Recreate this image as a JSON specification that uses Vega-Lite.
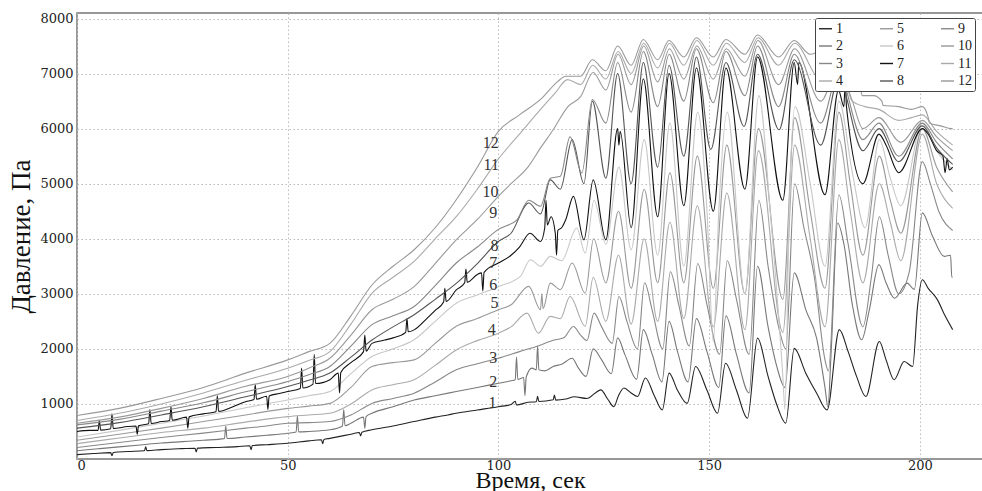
{
"$schema":"https://vega.github.io/schema/vega-lite/v6.json",
"width":906,"height":446,
"autosize":{"type":"none"},
"padding":{"left":77,"top":13,"right":0,"bottom":32},
"background":"white",
"datasets":{
"pressure":[
{"s":1,"t":0,"v":80},{"s":1,"t":4,"v":100},{"s":1,"t":8,"v":115},{"s":1,"t":8.3,"v":60},{"s":1,"t":8.6,"v":118},{"s":1,"t":12,"v":135},{"s":1,"t":16,"v":150},{"s":1,"t":16.3,"v":220},{"s":1,"t":16.6,"v":152},{"s":1,"t":20,"v":170},{"s":1,"t":24,"v":185},{"s":1,"t":28,"v":195},{"s":1,"t":28.3,"v":130},{"s":1,"t":28.6,"v":197},{"s":1,"t":33,"v":210},{"s":1,"t":38,"v":225},{"s":1,"t":41,"v":240},{"s":1,"t":41.3,"v":170},{"s":1,"t":41.6,"v":245},{"s":1,"t":45,"v":260},{"s":1,"t":50,"v":285},{"s":1,"t":55,"v":330},{"s":1,"t":58,"v":350},{"s":1,"t":58.3,"v":280},{"s":1,"t":58.6,"v":355},{"s":1,"t":60,"v":375},{"s":1,"t":65,"v":450},{"s":1,"t":67,"v":480},{"s":1,"t":67.3,"v":420},{"s":1,"t":67.6,"v":485},{"s":1,"t":70,"v":530},{"s":1,"t":75,"v":600},{"s":1,"t":80,"v":680},{"s":1,"t":85,"v":760},{"s":1,"t":88,"v":800},{"s":1,"t":90,"v":830},{"s":1,"t":95,"v":890},{"s":1,"t":100,"v":950},{"s":1,"t":103,"v":990},{"s":1,"t":104,"v":1050},{"s":1,"t":104.3,"v":980},{"s":1,"t":107,"v":1030},{"s":1,"t":109,"v":1040},{"s":1,"t":109.3,"v":1140},{"s":1,"t":109.6,"v":1045},{"s":1,"t":113,"v":1075},{"s":1,"t":113.3,"v":1160},{"s":1,"t":113.6,"v":1070},{"s":1,"t":116,"v":1090},{"s":1,"t":118,"v":1130},{"s":1,"t":121,"v":1100},{"s":1,"t":123,"v":1200},{"s":1,"t":124.3,"v":1255},{"s":1,"t":126,"v":1080},{"s":1,"t":127.4,"v":950},{"s":1,"t":128.5,"v":1150},{"s":1,"t":129.8,"v":1290},{"s":1,"t":131.5,"v":1200},{"s":1,"t":133,"v":1135},{"s":1,"t":134.9,"v":1470},{"s":1,"t":137,"v":1150},{"s":1,"t":138.9,"v":890},{"s":1,"t":140.5,"v":1560},{"s":1,"t":142.5,"v":1250},{"s":1,"t":144.8,"v":1010},{"s":1,"t":146.8,"v":1680},{"s":1,"t":149.5,"v":1250},{"s":1,"t":152,"v":830},{"s":1,"t":153.9,"v":1740},{"s":1,"t":156.5,"v":1250},{"s":1,"t":159.1,"v":740},{"s":1,"t":161.5,"v":2195},{"s":1,"t":164,"v":1500},{"s":1,"t":166,"v":1000},{"s":1,"t":168.2,"v":650},{"s":1,"t":170.2,"v":2010},{"s":1,"t":173,"v":1550},{"s":1,"t":175.5,"v":1200},{"s":1,"t":178,"v":890},{"s":1,"t":180.9,"v":2350},{"s":1,"t":183,"v":1950},{"s":1,"t":185,"v":1500},{"s":1,"t":187.2,"v":1135},{"s":1,"t":190.4,"v":2135},{"s":1,"t":192,"v":1800},{"s":1,"t":193.9,"v":1440},{"s":1,"t":196.3,"v":1770},{"s":1,"t":198.3,"v":1680},{"s":1,"t":199.5,"v":2800},{"s":1,"t":200.6,"v":3255},{"s":1,"t":202,"v":3100},{"s":1,"t":204.2,"v":2890},{"s":1,"t":206,"v":2600},{"s":1,"t":207.8,"v":2350},
{"s":2,"t":0,"v":150},{"s":2,"t":5,"v":185},{"s":2,"t":10,"v":220},{"s":2,"t":15,"v":255},{"s":2,"t":20,"v":290},{"s":2,"t":25,"v":315},{"s":2,"t":30,"v":340},{"s":2,"t":35,"v":370},{"s":2,"t":35.3,"v":600},{"s":2,"t":35.6,"v":372},{"s":2,"t":40,"v":400},{"s":2,"t":45,"v":430},{"s":2,"t":50,"v":467},{"s":2,"t":52,"v":490},{"s":2,"t":52.3,"v":780},{"s":2,"t":52.6,"v":492},{"s":2,"t":55,"v":500},{"s":2,"t":60,"v":530},{"s":2,"t":63,"v":600},{"s":2,"t":63.3,"v":900},{"s":2,"t":63.6,"v":605},{"s":2,"t":65,"v":650},{"s":2,"t":68,"v":760},{"s":2,"t":68.3,"v":560},{"s":2,"t":68.6,"v":770},{"s":2,"t":70,"v":830},{"s":2,"t":75,"v":950},{"s":2,"t":80,"v":1070},{"s":2,"t":85,"v":1150},{"s":2,"t":90,"v":1225},{"s":2,"t":95,"v":1300},{"s":2,"t":100,"v":1375},{"s":2,"t":103,"v":1420},{"s":2,"t":104,"v":1440},{"s":2,"t":104.3,"v":1850},{"s":2,"t":104.6,"v":1445},{"s":2,"t":106,"v":1480},{"s":2,"t":106.3,"v":1150},{"s":2,"t":106.6,"v":1490},{"s":2,"t":108,"v":1650},{"s":2,"t":109,"v":1620},{"s":2,"t":109.3,"v":2050},{"s":2,"t":109.6,"v":1620},{"s":2,"t":111,"v":1600},{"s":2,"t":113,"v":1680},{"s":2,"t":115,"v":1720},{"s":2,"t":117.5,"v":1830},{"s":2,"t":119,"v":1650},{"s":2,"t":120.8,"v":1500},{"s":2,"t":122.5,"v":2000},{"s":2,"t":124.5,"v":1800},{"s":2,"t":126.8,"v":1550},{"s":2,"t":128.3,"v":2200},{"s":2,"t":130,"v":1900},{"s":2,"t":132.8,"v":1450},{"s":2,"t":134.4,"v":2350},{"s":2,"t":136.5,"v":1900},{"s":2,"t":138.8,"v":1400},{"s":2,"t":140.5,"v":2500},{"s":2,"t":142.5,"v":1950},{"s":2,"t":145,"v":1400},{"s":2,"t":147,"v":2550},{"s":2,"t":149.5,"v":1950},{"s":2,"t":152.3,"v":1300},{"s":2,"t":154,"v":2600},{"s":2,"t":156.5,"v":1900},{"s":2,"t":159.5,"v":1200},{"s":2,"t":161.5,"v":3500},{"s":2,"t":164,"v":2400},{"s":2,"t":166,"v":1700},{"s":2,"t":168,"v":1300},{"s":2,"t":170.2,"v":3380},{"s":2,"t":173,"v":2700},{"s":2,"t":175.5,"v":2200},{"s":2,"t":177.5,"v":1300},{"s":2,"t":178.2,"v":950},{"s":2,"t":179,"v":2000},{"s":2,"t":180.5,"v":4285},{"s":2,"t":182,"v":3900},{"s":2,"t":184,"v":2800},{"s":2,"t":186.2,"v":2165},{"s":2,"t":188,"v":2700},{"s":2,"t":190.3,"v":3530},{"s":2,"t":192,"v":3200},{"s":2,"t":194,"v":2920},{"s":2,"t":197,"v":3195},{"s":2,"t":198.7,"v":3080},{"s":2,"t":200.6,"v":4470},{"s":2,"t":203,"v":4050},{"s":2,"t":205.8,"v":3680},{"s":2,"t":207.3,"v":3700},{"s":2,"t":207.6,"v":3300},{"s":2,"t":207.8,"v":3300},
{"s":3,"t":0,"v":210},{"s":3,"t":10,"v":300},{"s":3,"t":20,"v":390},{"s":3,"t":30,"v":470},{"s":3,"t":40,"v":560},{"s":3,"t":45,"v":600},{"s":3,"t":50,"v":650},{"s":3,"t":55,"v":660},{"s":3,"t":60,"v":680},{"s":3,"t":65,"v":800},{"s":3,"t":70,"v":1010},{"s":3,"t":75,"v":1100},{"s":3,"t":80,"v":1195},{"s":3,"t":85,"v":1400},{"s":3,"t":90,"v":1620},{"s":3,"t":95,"v":1730},{"s":3,"t":100,"v":1830},{"s":3,"t":105,"v":1950},{"s":3,"t":109,"v":2045},{"s":3,"t":113.5,"v":2165},{"s":3,"t":115.5,"v":2200},{"s":3,"t":117.8,"v":2407},{"s":3,"t":119.5,"v":2250},{"s":3,"t":121,"v":2150},{"s":3,"t":122.7,"v":2650},{"s":3,"t":124.5,"v":2400},{"s":3,"t":127,"v":2100},{"s":3,"t":128.6,"v":2950},{"s":3,"t":130.5,"v":2500},{"s":3,"t":133,"v":2000},{"s":3,"t":134.7,"v":3200},{"s":3,"t":136.5,"v":2700},{"s":3,"t":139,"v":2000},{"s":3,"t":140.8,"v":3400},{"s":3,"t":142.8,"v":2800},{"s":3,"t":145.3,"v":2050},{"s":3,"t":147.3,"v":3550},{"s":3,"t":149.5,"v":2800},{"s":3,"t":152.5,"v":1900},{"s":3,"t":154.3,"v":3600},{"s":3,"t":156.5,"v":2900},{"s":3,"t":159.5,"v":1900},{"s":3,"t":161.8,"v":4700},{"s":3,"t":164,"v":3500},{"s":3,"t":166.5,"v":2400},{"s":3,"t":168.2,"v":2000},{"s":3,"t":170.3,"v":5000},{"s":3,"t":172.5,"v":4200},{"s":3,"t":175,"v":3300},{"s":3,"t":177.5,"v":1800},{"s":3,"t":178.3,"v":1600},{"s":3,"t":180.8,"v":4800},{"s":3,"t":183,"v":3900},{"s":3,"t":186.5,"v":2400},{"s":3,"t":188.5,"v":3300},{"s":3,"t":190.4,"v":4400},{"s":3,"t":192.5,"v":3700},{"s":3,"t":195,"v":3000},{"s":3,"t":197.5,"v":3400},{"s":3,"t":200.6,"v":5400},{"s":3,"t":202.5,"v":5000},{"s":3,"t":204.5,"v":4500},{"s":3,"t":207.8,"v":4150},
{"s":4,"t":0,"v":280},{"s":4,"t":10,"v":380},{"s":4,"t":20,"v":480},{"s":4,"t":30,"v":560},{"s":4,"t":40,"v":670},{"s":4,"t":50,"v":770},{"s":4,"t":55,"v":800},{"s":4,"t":60,"v":830},{"s":4,"t":65,"v":1000},{"s":4,"t":70,"v":1255},{"s":4,"t":75,"v":1350},{"s":4,"t":80,"v":1440},{"s":4,"t":85,"v":1700},{"s":4,"t":90,"v":1980},{"s":4,"t":95,"v":2150},{"s":4,"t":100,"v":2285},{"s":4,"t":103,"v":2400},{"s":4,"t":106.8,"v":2650},{"s":4,"t":109.5,"v":2285},{"s":4,"t":112.3,"v":2590},{"s":4,"t":114.7,"v":2550},{"s":4,"t":117,"v":2950},{"s":4,"t":120.6,"v":2410},{"s":4,"t":122.5,"v":3300},{"s":4,"t":125.5,"v":2500},{"s":4,"t":128.5,"v":3700},{"s":4,"t":131.5,"v":2450},{"s":4,"t":134.6,"v":4000},{"s":4,"t":137.8,"v":2500},{"s":4,"t":140.7,"v":4300},{"s":4,"t":144,"v":2550},{"s":4,"t":147.2,"v":4600},{"s":4,"t":151,"v":2400},{"s":4,"t":154.2,"v":4830},{"s":4,"t":158.5,"v":2350},{"s":4,"t":161.7,"v":5600},{"s":4,"t":167.5,"v":2300},{"s":4,"t":170.3,"v":5700},{"s":4,"t":174,"v":4000},{"s":4,"t":177.5,"v":2400},{"s":4,"t":180.8,"v":5800},{"s":4,"t":183.5,"v":4500},{"s":4,"t":186.5,"v":3200},{"s":4,"t":190.4,"v":5000},{"s":4,"t":193,"v":4300},{"s":4,"t":195.5,"v":3600},{"s":4,"t":200.6,"v":5900},{"s":4,"t":204,"v":5000},{"s":4,"t":207.8,"v":4550},
{"s":5,"t":0,"v":340},{"s":5,"t":10,"v":450},{"s":5,"t":20,"v":560},{"s":5,"t":30,"v":680},{"s":5,"t":40,"v":800},{"s":5,"t":50,"v":920},{"s":5,"t":55,"v":960},{"s":5,"t":60,"v":1010},{"s":5,"t":65,"v":1300},{"s":5,"t":70,"v":1680},{"s":5,"t":75,"v":1750},{"s":5,"t":80,"v":1800},{"s":5,"t":85,"v":2100},{"s":5,"t":90,"v":2410},{"s":5,"t":95,"v":2550},{"s":5,"t":100,"v":2710},{"s":5,"t":103,"v":2800},{"s":5,"t":107.2,"v":3135},{"s":5,"t":110,"v":2710},{"s":5,"t":110.3,"v":3000},{"s":5,"t":110.6,"v":2730},{"s":5,"t":112.3,"v":3195},{"s":5,"t":114.7,"v":3075},{"s":5,"t":117.5,"v":3560},{"s":5,"t":120.6,"v":3010},{"s":5,"t":122.6,"v":4000},{"s":5,"t":125.5,"v":3200},{"s":5,"t":128.5,"v":4500},{"s":5,"t":131.5,"v":3100},{"s":5,"t":134.6,"v":4900},{"s":5,"t":137.8,"v":3200},{"s":5,"t":140.7,"v":5200},{"s":5,"t":144,"v":3200},{"s":5,"t":147.2,"v":5500},{"s":5,"t":151,"v":3100},{"s":5,"t":154.2,"v":5700},{"s":5,"t":158.5,"v":3000},{"s":5,"t":161.7,"v":6000},{"s":5,"t":167.5,"v":2900},{"s":5,"t":170.3,"v":6200},{"s":5,"t":174,"v":4500},{"s":5,"t":177.5,"v":3100},{"s":5,"t":180.8,"v":6300},{"s":5,"t":183.5,"v":5000},{"s":5,"t":186.5,"v":3700},{"s":5,"t":190.4,"v":5500},{"s":5,"t":193,"v":4700},{"s":5,"t":195.5,"v":4100},{"s":5,"t":200.6,"v":6000},{"s":5,"t":204,"v":5300},{"s":5,"t":207.8,"v":4850},
{"s":6,"t":0,"v":400},{"s":6,"t":10,"v":520},{"s":6,"t":20,"v":650},{"s":6,"t":30,"v":780},{"s":6,"t":40,"v":930},{"s":6,"t":50,"v":1073},{"s":6,"t":55,"v":1150},{"s":6,"t":60,"v":1225},{"s":6,"t":65,"v":1550},{"s":6,"t":70,"v":1860},{"s":6,"t":75,"v":2000},{"s":6,"t":80,"v":2165},{"s":6,"t":85,"v":2500},{"s":6,"t":90,"v":2830},{"s":6,"t":95,"v":2980},{"s":6,"t":100,"v":3130},{"s":6,"t":105.2,"v":3315},{"s":6,"t":107.6,"v":3620},{"s":6,"t":110,"v":3500},{"s":6,"t":112.3,"v":3680},{"s":6,"t":115,"v":3600},{"s":6,"t":118.6,"v":4195},{"s":6,"t":120.6,"v":3740},{"s":6,"t":122.7,"v":4700},{"s":6,"t":125.5,"v":3900},{"s":6,"t":128.6,"v":5300},{"s":6,"t":131.5,"v":3800},{"s":6,"t":134.6,"v":5800},{"s":6,"t":137.8,"v":3700},{"s":6,"t":140.7,"v":6100},{"s":6,"t":144,"v":3500},{"s":6,"t":147.3,"v":6300},{"s":6,"t":149.5,"v":4500},{"s":6,"t":151,"v":2130},{"s":6,"t":152.3,"v":4500},{"s":6,"t":154.3,"v":6300},{"s":6,"t":158.5,"v":3000},{"s":6,"t":161.8,"v":6600},{"s":6,"t":164.5,"v":4500},{"s":6,"t":167.5,"v":1500},{"s":6,"t":168,"v":900},{"s":6,"t":169,"v":4500},{"s":6,"t":170.4,"v":6400},{"s":6,"t":174,"v":5000},{"s":6,"t":177.5,"v":3500},{"s":6,"t":180.8,"v":6500},{"s":6,"t":184,"v":5200},{"s":6,"t":187,"v":4200},{"s":6,"t":190.4,"v":5800},{"s":6,"t":193,"v":5100},{"s":6,"t":195.5,"v":4600},{"s":6,"t":200.6,"v":6100},{"s":6,"t":204,"v":5600},{"s":6,"t":207.8,"v":5250},
{"s":7,"t":0,"v":500},{"s":7,"t":3,"v":520},{"s":7,"t":5,"v":520},{"s":7,"t":5.3,"v":700},{"s":7,"t":5.6,"v":525},{"s":7,"t":8,"v":550},{"s":7,"t":8.3,"v":820},{"s":7,"t":8.6,"v":555},{"s":7,"t":12,"v":590},{"s":7,"t":14,"v":600},{"s":7,"t":14.3,"v":450},{"s":7,"t":14.6,"v":605},{"s":7,"t":17,"v":640},{"s":7,"t":17.3,"v":900},{"s":7,"t":17.6,"v":645},{"s":7,"t":20,"v":680},{"s":7,"t":22,"v":700},{"s":7,"t":22.3,"v":950},{"s":7,"t":22.6,"v":705},{"s":7,"t":26,"v":760},{"s":7,"t":26.3,"v":560},{"s":7,"t":26.6,"v":765},{"s":7,"t":30,"v":820},{"s":7,"t":33,"v":860},{"s":7,"t":33.3,"v":1150},{"s":7,"t":33.6,"v":865},{"s":7,"t":37,"v":950},{"s":7,"t":40,"v":1040},{"s":7,"t":42,"v":1080},{"s":7,"t":42.3,"v":1350},{"s":7,"t":42.6,"v":1085},{"s":7,"t":45,"v":1140},{"s":7,"t":45.3,"v":900},{"s":7,"t":45.6,"v":1145},{"s":7,"t":48,"v":1190},{"s":7,"t":50,"v":1225},{"s":7,"t":53,"v":1280},{"s":7,"t":53.3,"v":1650},{"s":7,"t":53.6,"v":1290},{"s":7,"t":56,"v":1360},{"s":7,"t":56.3,"v":1900},{"s":7,"t":56.6,"v":1370},{"s":7,"t":60,"v":1440},{"s":7,"t":62,"v":1560},{"s":7,"t":62.3,"v":1200},{"s":7,"t":62.6,"v":1570},{"s":7,"t":65,"v":1750},{"s":7,"t":68,"v":1950},{"s":7,"t":68.3,"v":2250},{"s":7,"t":68.6,"v":1960},{"s":7,"t":70,"v":2100},{"s":7,"t":73,"v":2160},{"s":7,"t":75,"v":2200},{"s":7,"t":78,"v":2300},{"s":7,"t":78.3,"v":2550},{"s":7,"t":78.6,"v":2310},{"s":7,"t":80,"v":2345},{"s":7,"t":83,"v":2550},{"s":7,"t":85,"v":2700},{"s":7,"t":87,"v":2850},{"s":7,"t":87.3,"v":3100},{"s":7,"t":87.6,"v":2860},{"s":7,"t":90,"v":3070},{"s":7,"t":92,"v":3200},{"s":7,"t":92.3,"v":3450},{"s":7,"t":92.6,"v":3210},{"s":7,"t":95,"v":3350},{"s":7,"t":96,"v":3380},{"s":7,"t":96.3,"v":3050},{"s":7,"t":96.6,"v":3390},{"s":7,"t":100,"v":3560},{"s":7,"t":103,"v":3700},{"s":7,"t":105,"v":3850},{"s":7,"t":107.5,"v":4100},{"s":7,"t":110,"v":3950},{"s":7,"t":111,"v":4200},{"s":7,"t":111.3,"v":4700},{"s":7,"t":111.6,"v":4250},{"s":7,"t":112.5,"v":4400},{"s":7,"t":113.5,"v":4100},{"s":7,"t":113.8,"v":3700},{"s":7,"t":114.1,"v":4150},{"s":7,"t":115,"v":4200},{"s":7,"t":116,"v":4350},{"s":7,"t":117.8,"v":4770},{"s":7,"t":120.3,"v":3980},{"s":7,"t":122.5,"v":5070},{"s":7,"t":125.5,"v":3980},{"s":7,"t":128.3,"v":6000},{"s":7,"t":128.6,"v":5700},{"s":7,"t":128.9,"v":5950},{"s":7,"t":131.5,"v":4200},{"s":7,"t":134.4,"v":6900},{"s":7,"t":137.8,"v":4400},{"s":7,"t":140.5,"v":7000},{"s":7,"t":144,"v":4600},{"s":7,"t":147,"v":7100},{"s":7,"t":151,"v":4500},{"s":7,"t":154,"v":7100},{"s":7,"t":158.5,"v":4900},{"s":7,"t":161.5,"v":7300},{"s":7,"t":167.5,"v":4700},{"s":7,"t":170.2,"v":7200},{"s":7,"t":171,"v":6800},{"s":7,"t":171.3,"v":7200},{"s":7,"t":177.5,"v":4800},{"s":7,"t":180.7,"v":6700},{"s":7,"t":182,"v":6400},{"s":7,"t":182.3,"v":6900},{"s":7,"t":182.6,"v":6400},{"s":7,"t":186.5,"v":5000},{"s":7,"t":190.3,"v":5900},{"s":7,"t":192,"v":5700},{"s":7,"t":195,"v":5200},{"s":7,"t":200.6,"v":6000},{"s":7,"t":202,"v":5900},{"s":7,"t":204,"v":5600},{"s":7,"t":205.5,"v":5500},{"s":7,"t":206,"v":5200},{"s":7,"t":206.5,"v":5450},{"s":7,"t":207,"v":5250},{"s":7,"t":207.8,"v":5300},
{"s":8,"t":0,"v":560},{"s":8,"t":10,"v":660},{"s":8,"t":20,"v":800},{"s":8,"t":30,"v":950},{"s":8,"t":40,"v":1130},{"s":8,"t":50,"v":1315},{"s":8,"t":55,"v":1430},{"s":8,"t":60,"v":1560},{"s":8,"t":65,"v":1850},{"s":8,"t":70,"v":2160},{"s":8,"t":75,"v":2400},{"s":8,"t":80,"v":2620},{"s":8,"t":85,"v":2900},{"s":8,"t":90,"v":3190},{"s":8,"t":95,"v":3550},{"s":8,"t":100,"v":3950},{"s":8,"t":103,"v":4100},{"s":8,"t":107.2,"v":4650},{"s":8,"t":110,"v":4450},{"s":8,"t":112.3,"v":5070},{"s":8,"t":114.7,"v":4900},{"s":8,"t":117.5,"v":5800},{"s":8,"t":120.3,"v":5000},{"s":8,"t":122.3,"v":6500},{"s":8,"t":125.5,"v":5100},{"s":8,"t":128.3,"v":7000},{"s":8,"t":131.5,"v":5000},{"s":8,"t":134.4,"v":7200},{"s":8,"t":137.8,"v":5300},{"s":8,"t":140.5,"v":7150},{"s":8,"t":144,"v":5500},{"s":8,"t":147,"v":7300},{"s":8,"t":150.4,"v":5620},{"s":8,"t":154,"v":7200},{"s":8,"t":158.3,"v":6040},{"s":8,"t":161.5,"v":7350},{"s":8,"t":166.6,"v":5980},{"s":8,"t":170.2,"v":7250},{"s":8,"t":176.5,"v":5700},{"s":8,"t":180.7,"v":6900},{"s":8,"t":186.5,"v":5600},{"s":8,"t":190.3,"v":6000},{"s":8,"t":195,"v":5400},{"s":8,"t":200.6,"v":6050},{"s":8,"t":204,"v":5650},{"s":8,"t":207.8,"v":5350},
{"s":9,"t":0,"v":620},{"s":9,"t":10,"v":720},{"s":9,"t":20,"v":870},{"s":9,"t":30,"v":1020},{"s":9,"t":40,"v":1220},{"s":9,"t":50,"v":1406},{"s":9,"t":55,"v":1530},{"s":9,"t":60,"v":1680},{"s":9,"t":65,"v":2050},{"s":9,"t":70,"v":2440},{"s":9,"t":75,"v":2600},{"s":9,"t":80,"v":2770},{"s":9,"t":85,"v":3150},{"s":9,"t":90,"v":3560},{"s":9,"t":95,"v":3850},{"s":9,"t":100,"v":4170},{"s":9,"t":104.4,"v":4345},{"s":9,"t":107.2,"v":4700},{"s":9,"t":110,"v":4590},{"s":9,"t":112.3,"v":5100},{"s":9,"t":114.7,"v":5135},{"s":9,"t":117,"v":5850},{"s":9,"t":119.8,"v":5195},{"s":9,"t":122.3,"v":6530},{"s":9,"t":125.5,"v":6100},{"s":9,"t":128.3,"v":7200},{"s":9,"t":131.5,"v":6300},{"s":9,"t":134.4,"v":7400},{"s":9,"t":137.8,"v":6400},{"s":9,"t":140.5,"v":7350},{"s":9,"t":144,"v":6500},{"s":9,"t":147,"v":7450},{"s":9,"t":151,"v":6470},{"s":9,"t":154,"v":7400},{"s":9,"t":158.5,"v":6600},{"s":9,"t":161.5,"v":7500},{"s":9,"t":166.5,"v":6400},{"s":9,"t":170.2,"v":7350},{"s":9,"t":176.5,"v":6100},{"s":9,"t":180.7,"v":7000},{"s":9,"t":186.5,"v":5800},{"s":9,"t":190.3,"v":6100},{"s":9,"t":195,"v":5500},{"s":9,"t":200.6,"v":6100},{"s":9,"t":204,"v":5750},{"s":9,"t":207.8,"v":5450},
{"s":10,"t":0,"v":650},{"s":10,"t":10,"v":760},{"s":10,"t":20,"v":920},{"s":10,"t":30,"v":1100},{"s":10,"t":40,"v":1320},{"s":10,"t":50,"v":1500},{"s":10,"t":55,"v":1650},{"s":10,"t":60,"v":1830},{"s":10,"t":65,"v":2250},{"s":10,"t":70,"v":2710},{"s":10,"t":75,"v":2900},{"s":10,"t":80,"v":3130},{"s":10,"t":85,"v":3550},{"s":10,"t":90,"v":3980},{"s":10,"t":95,"v":4350},{"s":10,"t":100,"v":4770},{"s":10,"t":103,"v":5000},{"s":10,"t":107,"v":5300},{"s":10,"t":110,"v":5650},{"s":10,"t":113,"v":5980},{"s":10,"t":116.5,"v":6400},{"s":10,"t":119.5,"v":6580},{"s":10,"t":122.5,"v":7020},{"s":10,"t":125.5,"v":6700},{"s":10,"t":128.4,"v":7350},{"s":10,"t":131.5,"v":6800},{"s":10,"t":134.5,"v":7500},{"s":10,"t":137.8,"v":6850},{"s":10,"t":140.6,"v":7450},{"s":10,"t":144,"v":6900},{"s":10,"t":147.1,"v":7500},{"s":10,"t":151,"v":6900},{"s":10,"t":154.1,"v":7450},{"s":10,"t":158.5,"v":6950},{"s":10,"t":161.6,"v":7600},{"s":10,"t":166.5,"v":6800},{"s":10,"t":170.3,"v":7450},{"s":10,"t":176.5,"v":6500},{"s":10,"t":180.7,"v":7100},{"s":10,"t":184,"v":6500},{"s":10,"t":186.5,"v":6000},{"s":10,"t":190.3,"v":6200},{"s":10,"t":195.5,"v":5750},{"s":10,"t":200.6,"v":6150},{"s":10,"t":204,"v":5850},{"s":10,"t":207.8,"v":5600},
{"s":11,"t":0,"v":700},{"s":11,"t":10,"v":830},{"s":11,"t":20,"v":1000},{"s":11,"t":30,"v":1200},{"s":11,"t":40,"v":1430},{"s":11,"t":50,"v":1650},{"s":11,"t":55,"v":1790},{"s":11,"t":60,"v":1950},{"s":11,"t":65,"v":2450},{"s":11,"t":70,"v":3010},{"s":11,"t":75,"v":3300},{"s":11,"t":80,"v":3590},{"s":11,"t":85,"v":4000},{"s":11,"t":90,"v":4400},{"s":11,"t":95,"v":4900},{"s":11,"t":100,"v":5450},{"s":11,"t":105,"v":5900},{"s":11,"t":110,"v":6350},{"s":11,"t":113.5,"v":6650},{"s":11,"t":116.4,"v":6890},{"s":11,"t":119.5,"v":6800},{"s":11,"t":122.4,"v":7150},{"s":11,"t":125.5,"v":6900},{"s":11,"t":128.4,"v":7400},{"s":11,"t":131.5,"v":7000},{"s":11,"t":134.5,"v":7550},{"s":11,"t":137.8,"v":7100},{"s":11,"t":140.6,"v":7550},{"s":11,"t":144,"v":7150},{"s":11,"t":147.1,"v":7600},{"s":11,"t":151,"v":7150},{"s":11,"t":154.1,"v":7550},{"s":11,"t":158.5,"v":7200},{"s":11,"t":161.6,"v":7650},{"s":11,"t":166.5,"v":7150},{"s":11,"t":170.3,"v":7550},{"s":11,"t":176.5,"v":6900},{"s":11,"t":180.7,"v":7200},{"s":11,"t":184,"v":6500},{"s":11,"t":187,"v":6400},{"s":11,"t":190.3,"v":6350},{"s":11,"t":195,"v":6150},{"s":11,"t":198,"v":6200},{"s":11,"t":200.6,"v":6250},{"s":11,"t":204,"v":5950},{"s":11,"t":207.8,"v":5700},
{"s":12,"t":0,"v":790},{"s":12,"t":10,"v":920},{"s":12,"t":20,"v":1100},{"s":12,"t":30,"v":1300},{"s":12,"t":40,"v":1560},{"s":12,"t":50,"v":1800},{"s":12,"t":55,"v":1950},{"s":12,"t":60,"v":2100},{"s":12,"t":65,"v":2600},{"s":12,"t":70,"v":3160},{"s":12,"t":75,"v":3500},{"s":12,"t":80,"v":3800},{"s":12,"t":85,"v":4200},{"s":12,"t":90,"v":4709},{"s":12,"t":95,"v":5300},{"s":12,"t":100,"v":5950},{"s":12,"t":105,"v":6250},{"s":12,"t":110,"v":6530},{"s":12,"t":114,"v":6850},{"s":12,"t":116,"v":6950},{"s":12,"t":119.5,"v":6950},{"s":12,"t":122.3,"v":7250},{"s":12,"t":125.5,"v":7050},{"s":12,"t":128.3,"v":7500},{"s":12,"t":131.5,"v":7150},{"s":12,"t":134.4,"v":7620},{"s":12,"t":137.8,"v":7250},{"s":12,"t":140.5,"v":7600},{"s":12,"t":144,"v":7300},{"s":12,"t":147,"v":7650},{"s":12,"t":151,"v":7300},{"s":12,"t":154,"v":7620},{"s":12,"t":158.5,"v":7350},{"s":12,"t":161.5,"v":7700},{"s":12,"t":166.5,"v":7300},{"s":12,"t":170.2,"v":7600},{"s":12,"t":174,"v":7350},{"s":12,"t":176.5,"v":7400},{"s":12,"t":178,"v":7100},{"s":12,"t":180.7,"v":7350},{"s":12,"t":182.5,"v":6750},{"s":12,"t":186,"v":6700},{"s":12,"t":186.3,"v":6600},{"s":12,"t":189,"v":6600},{"s":12,"t":191,"v":6500},{"s":12,"t":191.3,"v":6420},{"s":12,"t":195,"v":6400},{"s":12,"t":198,"v":6350},{"s":12,"t":200.6,"v":6400},{"s":12,"t":202,"v":6200},{"s":12,"t":202.3,"v":6100},{"s":12,"t":205,"v":6050},{"s":12,"t":207.5,"v":6000},{"s":12,"t":207.8,"v":6000}
],
"labels":[
{"label":"12","t":98.2,"v":5745},{"label":"11","t":98.3,"v":5345},{"label":"10","t":98.1,"v":4855},{"label":"9","t":98.8,"v":4470},{"label":"8","t":99.1,"v":3870},{"label":"7","t":98.8,"v":3560},{"label":"6","t":98.8,"v":3160},{"label":"5","t":99.1,"v":2840},{"label":"4","t":98.4,"v":2345},{"label":"3","t":98.8,"v":1840},{"label":"2","t":98.8,"v":1400},{"label":"1","t":98.6,"v":1020}
]
},
"layer":[
{"data":{"name":"pressure"},
 "mark":{"type":"line","strokeWidth":1.1,"strokeJoin":"round","interpolate":"monotone"},
 "encoding":{
  "x":{"field":"t","type":"quantitative","scale":{"domain":[0,215],"nice":false,"zero":false},
       "axis":{"values":[0,50,100,150,200],"title":"Время, сек","titleFontSize":24,"labelPadding":0,"titleY":28,"titleBaseline":"alphabetic"}},
  "y":{"field":"v","type":"quantitative","scale":{"domain":[0,8100],"nice":false},
       "axis":{"values":[1000,2000,3000,4000,5000,6000,7000,8000],"format":"d","title":"Давление, Па","titleFontSize":27,"labelPadding":4,"titleX":-56,"titleY":223,"titleAngle":-90,"titleAlign":"center","titleBaseline":"middle"}},
  "color":{"field":"s","type":"nominal",
   "scale":{"domain":[1,2,3,4,5,6,7,8,9,10,11,12],"range":["#222222","#777777","#888888","#aaaaaa","#999999","#c8c8c8","#111111","#555555","#888888","#999999","#aaaaaa","#999999"]},
   "legend":{"title":null,"orient":"none","legendX":738,"legendY":5,"columns":3,"columnPadding":34,"rowPadding":2.5,"padding":3,
     "fillColor":"white","strokeColor":"#444444","cornerRadius":2,
     "symbolType":"stroke","symbolSize":170,"symbolStrokeWidth":1.4,"labelOffset":3,
     "labelFont":"Liberation Serif","labelFontSize":14,"labelColor":"#222222"}}
 }},
{"data":{"name":"labels"},
 "mark":{"type":"text","font":"Liberation Serif","fontSize":16,"color":"#333333","align":"center","baseline":"middle"},
 "encoding":{
  "x":{"field":"t","type":"quantitative"},
  "y":{"field":"v","type":"quantitative"},
  "text":{"field":"label","type":"nominal"}
 }}
],
"config":{
 "view":{"stroke":"#777777","strokeWidth":1.5},
 "axis":{"domain":false,"ticks":false,"grid":true,"gridColor":"#bbbbbb","gridDash":[1.5,2.5],"gridWidth":1,
   "labelFont":"DejaVu Serif","labelFontSize":13,"labelColor":"#222222",
   "titleFont":"Liberation Serif","titleFontSize":25,"titleFontWeight":"normal","titleColor":"#111111"}
}
}
